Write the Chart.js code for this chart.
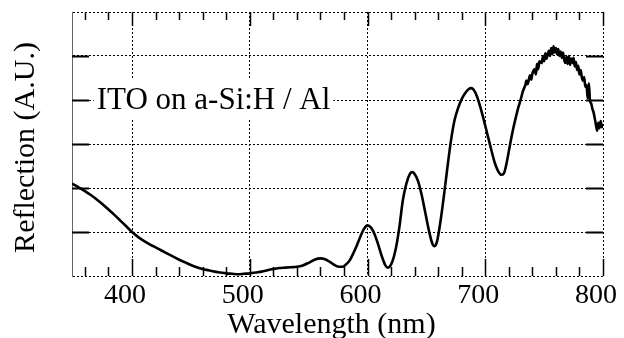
<!DOCTYPE html>
<html><head><meta charset="utf-8">
<script src="https://cdn.jsdelivr.net/npm/chart.js@4/dist/chart.umd.min.js"></script>
<style>html,body{margin:0;padding:0;background:#fff;overflow:hidden;}#wrap{width:624px;height:338px;}</style>
</head><body><div id="wrap"><canvas id="c" width="624" height="338"></canvas></div>
<script>
// ---- data ----
const wavelength = [349,355,360,365,370,375,380,385,390,395,400,405,410,415,420,425,430,435,440,445,450,455,460,465,470,475,480,485,490,495,500,505,510,515,520,525,530,535,540,545,550,555,560,564,568,572,576,579,582,585,588,591,594,597,600,603,606,609,612,615,617,619,621,624,627,630,633,636,638,640,643,646,649,652,655,657,659,662,665,668,671,674,677,680,683,686,688,690,693,696,699,702,705,708,711,714,716,718,721,724,727,728,730,732,734,735,736,738,739,740,742,743,744,745,746,748,749,750,751,752,754,755,756,757,758,759,760,761,762,763,764,765,766,767,768,769,770,771,772,773,774,775,776,777,778,779,780,781,782,783,784,785,786,787,788,789,790,791,792,793,794,795,796,797,798,799,800];
const reflection = [2.10,2.01,1.93,1.84,1.74,1.63,1.51,1.39,1.26,1.13,1.00,0.89,0.80,0.72,0.65,0.58,0.51,0.44,0.37,0.31,0.25,0.20,0.16,0.13,0.10,0.08,0.06,0.05,0.04,0.05,0.06,0.08,0.10,0.13,0.16,0.18,0.19,0.20,0.21,0.24,0.30,0.37,0.40,0.38,0.32,0.25,0.21,0.21,0.27,0.36,0.52,0.70,0.90,1.07,1.15,1.10,0.95,0.72,0.46,0.25,0.19,0.22,0.32,0.62,1.10,1.72,2.10,2.32,2.36,2.32,2.15,1.84,1.45,1.05,0.74,0.68,0.78,1.25,1.85,2.50,3.10,3.55,3.82,4.02,4.16,4.25,4.27,4.24,4.08,3.82,3.52,3.20,2.88,2.58,2.38,2.30,2.34,2.55,2.98,3.38,3.72,3.82,4.00,4.20,4.34,4.44,4.36,4.56,4.46,4.60,4.70,4.58,4.82,4.70,4.88,4.84,5.00,4.88,5.06,4.94,5.12,5.00,5.18,5.04,5.22,5.08,5.18,5.04,5.16,5.00,5.10,4.96,5.08,4.92,4.84,4.98,4.82,5.00,4.80,4.94,4.84,4.96,4.76,4.86,4.68,4.78,4.58,4.68,4.52,4.44,4.52,4.30,4.34,4.04,4.38,3.98,3.92,3.80,3.72,3.58,3.44,3.30,3.48,3.36,3.52,3.38,3.46];
const xTickLabels = [400,500,600,700,800];
const xMinorTicks = [360,380,420,440,460,480,520,540,560,580,620,640,660,680,720,740,760,780];
const yGridValues = [1,2,3,4,5];
const xTitle = 'Wavelength (nm)';
const yTitle = 'Reflection (A.U.)';
const annotationText = 'ITO on a-Si:H / Al';
const annotationWavelength = 370;
const annotationLevel = 4;

const SERIF = '"Liberation Serif","Times New Roman",serif';

const decor = {
  id: 'decor',
  beforeDatasetsDraw(chart) {
    const {ctx, scales: {x, y}, chartArea: a} = chart;
    ctx.save();
    ctx.font = '31px ' + SERIF;
    const tx = x.getPixelForValue(annotationWavelength);
    const ty = y.getPixelForValue(annotationLevel);
    const w = ctx.measureText(annotationText).width;
    ctx.fillStyle = '#fff';
    ctx.fillRect(tx - 3, ty - 20, w + 6, 39);
    ctx.fillStyle = '#000';
    ctx.textAlign = 'left';
    ctx.textBaseline = 'alphabetic';
    ctx.fillText(annotationText, tx, ty + 8.5);
    ctx.strokeStyle = '#000';
    ctx.lineWidth = 1.5;
    ctx.beginPath();
    xTickLabels.forEach(v => {
      const px = Math.round(x.getPixelForValue(v)) + 0.5;
      ctx.moveTo(px, a.bottom); ctx.lineTo(px, a.bottom - 17);
      ctx.moveTo(px, a.top); ctx.lineTo(px, a.top + 14);
    });
    xMinorTicks.forEach(v => {
      const px = Math.round(x.getPixelForValue(v)) + 0.5;
      ctx.moveTo(px, a.bottom); ctx.lineTo(px, a.bottom - 9);
      ctx.moveTo(px, a.top); ctx.lineTo(px, a.top + 8);
    });
    ctx.stroke();
    ctx.lineWidth = 2;
    ctx.beginPath();
    yGridValues.forEach(v => {
      const py = Math.round(y.getPixelForValue(v)) + 0.5;
      ctx.moveTo(a.left, py); ctx.lineTo(a.left + 17, py);
      ctx.moveTo(a.right, py); ctx.lineTo(a.right - 17, py);
    });
    ctx.stroke();
    ctx.restore();
  },
  afterDraw(chart) {
    const {ctx, chartArea: a} = chart;
    ctx.save();
    ctx.fillStyle = '#000';
    ctx.font = '30px ' + SERIF;
    ctx.textAlign = 'center';
    ctx.textBaseline = 'alphabetic';
    ctx.fillText(xTitle, (a.left + a.right) / 2 - 6, 333);
    ctx.translate(34, (a.top + a.bottom) / 2 + 3.5);
    ctx.rotate(-Math.PI / 2);
    ctx.fillText(yTitle, 0, 0);
    ctx.restore();
  }
};

new Chart(document.getElementById('c'), {
  type: 'line',
  data: {
    datasets: [{
      data: wavelength.map((w, i) => ({x: w, y: reflection[i]})),
      borderColor: '#000',
      borderWidth: 2.6,
      pointRadius: 0,
      cubicInterpolationMode: 'monotone',
      fill: false
    }]
  },
  options: {
    responsive: false,
    animation: false,
    devicePixelRatio: 1,
    layout: {padding: {top: 12, right: 21, left: 0, bottom: 0}},
    plugins: {legend: {display: false}, tooltip: {enabled: false}},
    scales: {
      x: {
        type: 'linear',
        min: 349, max: 800,
        afterBuildTicks: s => { s.ticks = xTickLabels.map(v => ({value: v})); },
        afterFit: s => { s.height = 62; s.paddingLeft = 0; s.paddingRight = 0; },
        ticks: {
          autoSkip: false, maxRotation: 0, minRotation: 0,
          color: '#000', padding: 3, labelOffset: -7,
          font: {family: SERIF, size: 28},
          callback: v => String(v)
        },
        grid: {color: '#000', lineWidth: 1, drawTicks: false},
        border: {display: false, dash: [2, 2]}
      },
      y: {
        type: 'linear',
        min: 0, max: 6,
        ticks: {display: false, stepSize: 1},
        afterFit: s => { s.width = 72; },
        grid: {color: '#000', lineWidth: 1, drawTicks: false},
        border: {display: true, color: '#666', width: 1, dash: [2, 2]}
      }
    }
  },
  plugins: [decor]
});
</script>
</body></html>
